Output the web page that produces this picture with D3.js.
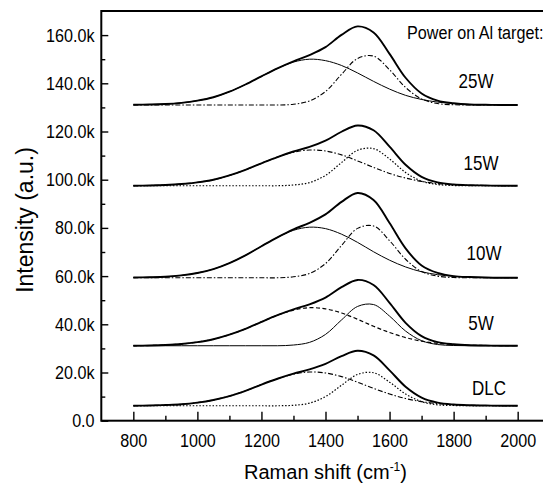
<!DOCTYPE html>
<html>
<head>
<meta charset="utf-8">
<script src="https://cdn.jsdelivr.net/npm/d3@7"></script>
<style>
  html, body { margin: 0; padding: 0; background: #fff; }
  svg text { font-family: Arial, "Liberation Sans", sans-serif; fill: #000; }
</style>
</head>
<body>
<div id="chart"></div>
<script>
// Raman shift sample points (cm-1)
const shift = [800, 850, 900, 950, 1000, 1050, 1100, 1150, 1200, 1250, 1300, 1350,
               1400, 1450, 1500, 1550, 1600, 1650, 1700, 1750, 1800, 1850, 1900, 1950, 2000];

// Samples, bottom to top, with the vertical offset of each spectrum (k counts)
const samples = ['DLC', '5W', '10W', '15W', '25W'];
const offsets = [6.2, 31.1, 59.3, 97.5, 131.0];

// Intensity above the offset (k): measured envelope, D band fit, G band fit
const dlcSum = [0, 0.1, 0.3, 0.6, 1.3, 2.4, 4.0, 6.2, 8.8, 11.2, 13.3, 15.1, 17.4, 20.6, 22.8, 20.9, 14.7, 7.9, 3.4, 1.3, 0.5, 0.2, 0.1, 0, 0];
const dlcD   = [0, 0.1, 0.3, 0.6, 1.3, 2.4, 4.0, 6.2, 8.8, 11.2, 13.1, 14.0, 13.6, 12.1, 9.8, 7.2, 4.9, 3.0, 1.7, 0.9, 0.4, 0.2, 0.1, 0, 0];
const dlcG   = [0, 0, 0, 0, 0, 0, 0, 0, 0, 0, 0.2, 1.1, 3.8, 8.5, 13.0, 13.7, 9.8, 4.9, 1.7, 0.4, 0.1, 0, 0, 0, 0];

const w5Sum = [0, 0.1, 0.3, 0.7, 1.5, 2.7, 4.6, 7.0, 9.9, 12.7, 15.1, 17.2, 20.0, 24.3, 27.3, 25.2, 17.8, 9.5, 4.0, 1.5, 0.6, 0.2, 0.1, 0, 0];
const w5D   = [0, 0.1, 0.3, 0.7, 1.5, 2.7, 4.6, 7.0, 9.9, 12.7, 14.8, 15.8, 15.3, 13.6, 11.0, 8.1, 5.5, 3.4, 1.9, 1.0, 0.5, 0.2, 0.1, 0, 0];
const w5G   = [0, 0, 0, 0, 0, 0, 0, 0, 0, 0, 0.3, 1.4, 4.7, 10.7, 16.3, 17.1, 12.3, 6.1, 2.1, 0.5, 0.1, 0, 0, 0, 0];

const w10Sum = [0.1, 0.2, 0.4, 1.0, 2.0, 3.6, 6.1, 9.3, 13.1, 16.8, 20.1, 22.8, 26.3, 31.5, 35.2, 32.3, 22.7, 12.2, 5.1, 2.0, 0.7, 0.3, 0.1, 0, 0];
const w10D   = [0.1, 0.2, 0.4, 1.0, 2.0, 3.6, 6.1, 9.3, 13.1, 16.8, 19.7, 21.0, 20.4, 18.1, 14.7, 10.8, 7.3, 4.5, 2.5, 1.3, 0.6, 0.3, 0.1, 0, 0];
const w10G   = [0, 0, 0, 0, 0, 0, 0, 0, 0, 0, 0.4, 1.8, 5.9, 13.4, 20.5, 21.5, 15.4, 7.7, 2.6, 0.7, 0.1, 0, 0, 0, 0];

const w15Sum = [0, 0.1, 0.3, 0.7, 1.4, 2.5, 4.3, 6.6, 9.3, 11.9, 14.2, 16.1, 18.7, 22.4, 25.0, 23.0, 16.2, 8.7, 3.7, 1.4, 0.5, 0.2, 0.1, 0, 0];
const w15D   = [0, 0.1, 0.3, 0.7, 1.4, 2.5, 4.3, 6.6, 9.3, 11.9, 13.9, 14.8, 14.4, 12.8, 10.3, 7.6, 5.1, 3.2, 1.8, 0.9, 0.4, 0.2, 0.1, 0, 0];
const w15G   = [0, 0, 0, 0, 0, 0, 0, 0, 0, 0, 0.3, 1.3, 4.3, 9.6, 14.7, 15.4, 11.1, 5.5, 1.9, 0.5, 0.1, 0, 0, 0, 0];

const w25Sum = [0.1, 0.2, 0.4, 0.9, 1.8, 3.2, 5.5, 8.5, 11.9, 15.2, 18.1, 20.7, 24.0, 29.1, 32.6, 30.1, 21.2, 11.3, 4.8, 1.8, 0.7, 0.2, 0.1, 0, 0];
const w25D   = [0.1, 0.2, 0.4, 0.9, 1.8, 3.2, 5.5, 8.5, 11.9, 15.2, 17.8, 19.0, 18.4, 16.4, 13.3, 9.8, 6.6, 4.0, 2.3, 1.2, 0.6, 0.2, 0.1, 0, 0];
const w25G   = [0, 0, 0, 0, 0, 0, 0, 0, 0, 0, 0.3, 1.7, 5.6, 12.7, 19.3, 20.3, 14.6, 7.3, 2.5, 0.6, 0.1, 0, 0, 0, 0];

const xTicks = [800, 1000, 1200, 1400, 1600, 1800, 2000];
const xMinor = [900, 1100, 1300, 1500, 1700, 1900];
const yTicks = [0, 20, 40, 60, 80, 100, 120, 140, 160];
const yMinor = [10, 30, 50, 70, 90, 110, 130, 150];

const sumSeries = [dlcSum, w5Sum, w10Sum, w15Sum, w25Sum];
const dSeries = [dlcD, w5D, w10D, w15D, w25D];
const gSeries = [dlcG, w5G, w10G, w15G, w25G];

// line look of the two fitted bands for each sample
const dStyle = ['dashdot', 'dashed', 'thin', 'dashdot', 'thin'];
const gStyle = ['dotted', 'thin', 'dashdot', 'dotted', 'dashdot'];
const styles = {
    total:   { width: 1.9, dash: null },
    thin:    { width: 1.0, dash: null },
    dashed:  { width: 1.2, dash: '4,2.5' },
    dotted:  { width: 1.2, dash: '1.5,1.8' },
    dashdot: { width: 1.1, dash: '5,2,1.5,2' }
};

// label anchors (pixels) for each sample
const labelPos = [[489, 395], [481, 330], [484, 260], [481, 170], [476, 88]];

const width = 543, height = 496;
const plot = { left: 101.3, right: 549.7, top: 11, bottom: 420.7 };
const squeeze = 0.85;   // the original lettering is a narrow face

const svg = d3.select('#chart')
    .append('svg')
    .attr('width', width)
    .attr('height', height);

const x = d3.scaleLinear().domain([700, 2100]).range([plot.left, plot.right]);
const y = d3.scaleLinear().domain([0, 170]).range([plot.bottom, plot.top]);

const line = d3.line()
    .x(d => x(d[0]))
    .y(d => y(d[1]))
    .curve(d3.curveCatmullRom.alpha(0.5));

function drawCurve(values, offset, styleName) {
    const st = styles[styleName];
    const pts = shift.map((s, i) => [s, offset + values[i]]);
    svg.append('path')
        .attr('d', line(pts))
        .attr('fill', 'none')
        .attr('stroke', '#000')
        .attr('stroke-width', st.width)
        .attr('stroke-dasharray', st.dash)
        .attr('stroke-linejoin', 'round');
}

// Spectra: fitted bands first, envelope on top
samples.forEach((name, i) => {
    drawCurve(dSeries[i], offsets[i], dStyle[i]);
    drawCurve(gSeries[i], offsets[i], gStyle[i]);
    drawCurve(sumSeries[i], offsets[i], 'total');

    svg.append('text')
        .attr('transform', `translate(${labelPos[i][0]},${labelPos[i][1]}) scale(${squeeze},1)`)
        .attr('text-anchor', 'middle')
        .attr('font-size', 20)
        .text(name);
});

// Axes
svg.append('g')
    .attr('transform', `translate(0,${plot.bottom})`)
    .call(d3.axisBottom(x).tickValues(xTicks).tickSizeInner(-9).tickSizeOuter(0).tickPadding(12.5)
        .tickFormat(d3.format('d')));
svg.append('g')
    .attr('transform', `translate(0,${plot.bottom})`)
    .call(d3.axisBottom(x).tickValues(xMinor).tickSizeInner(-5).tickSizeOuter(0).tickFormat(''));

svg.append('g')
    .attr('transform', `translate(${plot.left},0)`)
    .call(d3.axisLeft(y).tickValues(yTicks).tickSizeInner(-7).tickSizeOuter(0).tickPadding(7.9)
        .tickFormat(d => d === 0 ? '0.0' : d.toFixed(1) + 'k'));
svg.append('g')
    .attr('transform', `translate(${plot.left},0)`)
    .call(d3.axisLeft(y).tickValues(yMinor).tickSizeInner(-4).tickSizeOuter(0).tickFormat(''));

svg.selectAll('.domain').remove();
svg.selectAll('.tick line').attr('stroke', '#000').attr('stroke-width', 1.4);
svg.selectAll('.tick text')
    .attr('font-size', 19)
    .attr('font-family', 'Arial, "Liberation Sans", sans-serif')
    .attr('fill', '#000')
    .attr('transform', `scale(${squeeze},1)`);

// Frame
svg.append('rect')
    .attr('x', plot.left)
    .attr('y', plot.top)
    .attr('width', plot.right - plot.left)
    .attr('height', plot.bottom - plot.top)
    .attr('fill', 'none')
    .attr('stroke', '#000')
    .attr('stroke-width', 2);

// Titles
svg.append('text')
    .attr('transform', `translate(407,39) scale(${squeeze},1)`)
    .attr('font-size', 19)
    .text('Power on Al target:');

const xTitle = svg.append('text')
    .attr('x', (plot.left + plot.right) / 2)
    .attr('y', 479)
    .attr('text-anchor', 'middle')
    .attr('font-size', 20);
xTitle.append('tspan').text('Raman shift (cm');
xTitle.append('tspan').attr('dy', -8).attr('font-size', 12).text('-1');
xTitle.append('tspan').attr('dy', 8).text(')');

svg.append('text')
    .attr('transform', 'translate(33,220) rotate(-90)')
    .attr('text-anchor', 'middle')
    .attr('font-size', 23)
    .text('Intensity (a.u.)');
</script>
</body>
</html>
